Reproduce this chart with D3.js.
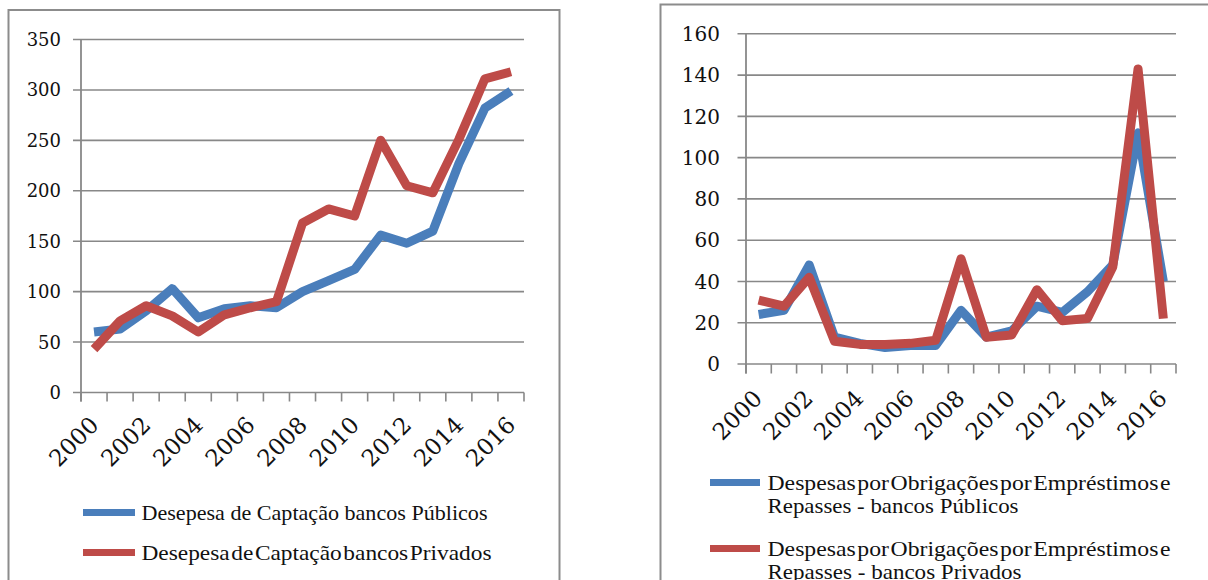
<!DOCTYPE html>
<html>
<head>
<meta charset="utf-8">
<script src="https://cdn.jsdelivr.net/npm/d3@7"></script>
<style>
  html, body { margin: 0; padding: 0; background: #fff; }
  svg { display: block; }
</style>
</head>
<body>
<svg id="chart" width="1208" height="580"></svg>
<script>
// Years on the category axis
const years = ["2000","2001","2002","2003","2004","2005","2006","2007","2008",
               "2009","2010","2011","2012","2013","2014","2015","2016"];

// Despesa de captação (left panel)
const captacaoPublicos = [60, 63, 81, 103, 74, 83, 86, 84, 100, 111, 122, 156, 148, 160, 227, 282, 299];
const captacaoPrivados = [43, 71, 86, 76, 60, 77, 84, 90, 168, 182, 175, 250, 205, 198, 251, 311, 318];

// Despesas por obrigações por empréstimos e repasses (right panel)
const obrigacoesPublicos = [24, 26, 48, 13, 10, 8, 9, 9, 26, 13, 16, 28, 25, 35, 48, 112, 40];
const obrigacoesPrivados = [31, 28, 42, 11, 9.5, 9.5, 10, 11.5, 51, 13, 14, 36, 21, 22, 47, 143, 22];

// Axis tick values
const leftTicks = [0, 50, 100, 150, 200, 250, 300, 350];
const rightTicks = [0, 20, 40, 60, 80, 100, 120, 140, 160];
const yearLabels = years.filter((d, i) => i % 2 === 0);

// Legend entries (one object per line: text, width, compressed word spacing)
const leftLegend = [
  [{ text: "Desepesa de Captação bancos  Públicos", width: 346, tight: false }],
  [{ text: "Desepesa de Captação bancos Privados", width: 350, tight: true }]
];
const rightLegend = [
  [{ text: "Despesas por Obrigações por Empréstimos e", width: 403, tight: true },
   { text: "Repasses - bancos Públicos", width: 251, tight: false }],
  [{ text: "Despesas por Obrigações por Empréstimos e", width: 403, tight: true },
   { text: "Repasses - bancos Privados", width: 254, tight: false }]
];

const BLUE = "#4a7ebb";
const RED = "#be4b48";
const GRID = "#888888";
const FRAME = "#8c8c8c";

const svg = d3.select("#chart");

function drawPanel(cfg) {
  const g = svg.append("g");

  // frame
  g.append("rect")
    .attr("x", cfg.frame[0]).attr("y", cfg.frame[1])
    .attr("width", cfg.frame[2]).attr("height", cfg.frame[3])
    .attr("fill", "none").attr("stroke", FRAME).attr("stroke-width", 2);

  const x = d3.scaleBand().domain(years).range([cfg.x0, cfg.x1]).paddingInner(0).paddingOuter(0);
  const y = d3.scaleLinear().domain([0, cfg.max]).range([cfg.y0, cfg.y1]);
  const cx = d => x(d) + x.bandwidth() / 2;

  // horizontal gridlines (extend left of the axis as tick marks)
  g.append("g").selectAll("line").data(cfg.ticks).join("line")
    .attr("x1", cfg.x0 - cfg.tickLen).attr("x2", cfg.x1)
    .attr("y1", d => y(d)).attr("y2", d => y(d))
    .attr("stroke", GRID).attr("stroke-width", 1.6);

  // y tick labels
  g.append("g").selectAll("text").data(cfg.ticks).join("text")
    .attr("x", cfg.x0 - cfg.labelGap)
    .attr("y", d => y(d))
    .attr("dy", "0.36em")
    .attr("text-anchor", "end")
    .attr("font-family", "'DejaVu Serif', serif")
    .attr("font-size", cfg.yFont)
    .attr("fill", "#111")
    .text(d => d);

  // y axis line
  g.append("line")
    .attr("x1", cfg.x0).attr("x2", cfg.x0)
    .attr("y1", y(cfg.max)).attr("y2", cfg.y0 + cfg.tickLen + 1)
    .attr("stroke", GRID).attr("stroke-width", 1.8);

  // category tick marks at band boundaries
  const bounds = years.map(d => x(d)).concat([cfg.x1]);
  g.append("g").selectAll("line").data(bounds).join("line")
    .attr("x1", d => d).attr("x2", d => d)
    .attr("y1", cfg.y0).attr("y2", cfg.y0 + cfg.tickLen + 1)
    .attr("stroke", GRID).attr("stroke-width", 1.6);

  // x labels, rotated
  g.append("g").selectAll("text").data(yearLabels).join("text")
    .attr("transform", d => `translate(${cx(d) + cfg.xLabDx},${cfg.y0 + cfg.xLabDy}) rotate(-45)`)
    .attr("text-anchor", "end")
    .attr("font-family", "'DejaVu Serif', serif")
    .attr("font-size", cfg.xFont)
    .attr("fill", "#111")
    .text(d => d);

  // series lines
  const line = d3.line().x((d, i) => cx(years[i])).y(d => y(d));
  cfg.series.forEach(s => {
    g.append("path")
      .datum(s.values)
      .attr("d", line)
      .attr("fill", "none")
      .attr("stroke", s.color)
      .attr("stroke-width", 9)
      .attr("stroke-linejoin", "round")
      .attr("stroke-linecap", "butt");
  });

  // legend
  cfg.legend.forEach((lines, k) => {
    const ly = cfg.legendY[k];
    g.append("line")
      .attr("x1", cfg.legendX[0]).attr("x2", cfg.legendX[1])
      .attr("y1", ly).attr("y2", ly)
      .attr("stroke", cfg.series[k].color).attr("stroke-width", 7);
    lines.forEach((ln, j) => {
      g.append("text")
        .attr("x", cfg.legendX[2])
        .attr("y", ly + cfg.legendBase + j * cfg.legendLead)
        .attr("font-family", "'Liberation Serif', serif")
        .attr("font-size", cfg.legendFont)
        .attr("fill", "#111")
        .attr("word-spacing", ln.tight ? -4 : 0)
        .attr("textLength", ln.width)
        .attr("lengthAdjust", "spacingAndGlyphs")
        .text(ln.text);
    });
  });
}

drawPanel({
  frame: [8.5, 10, 551, 620],
  x0: 81, x1: 524, y0: 392.5, y1: 39.5, max: 350,
  ticks: leftTicks, tickLen: 8, labelGap: 20,
  yFont: 18, xFont: 23, xLabDx: 6, xLabDy: 34,
  series: [
    { values: captacaoPublicos, color: BLUE },
    { values: captacaoPrivados, color: RED }
  ],
  legend: leftLegend,
  legendX: [83, 135, 141.5], legendY: [512.5, 552.5],
  legendBase: 7, legendLead: 23, legendFont: 22
});

drawPanel({
  frame: [660.5, 4.5, 600, 620],
  x0: 746, x1: 1176, y0: 364, y1: 33.8, max: 160,
  ticks: rightTicks, tickLen: 8.5, labelGap: 26,
  yFont: 20, xFont: 23, xLabDx: 5, xLabDy: 36,
  series: [
    { values: obrigacoesPublicos, color: BLUE },
    { values: obrigacoesPrivados, color: RED }
  ],
  legend: rightLegend,
  legendX: [710, 760, 767.5], legendY: [482.5, 548.5],
  legendBase: 7.5, legendLead: 23.3, legendFont: 22
});
</script>
</body>
</html>
